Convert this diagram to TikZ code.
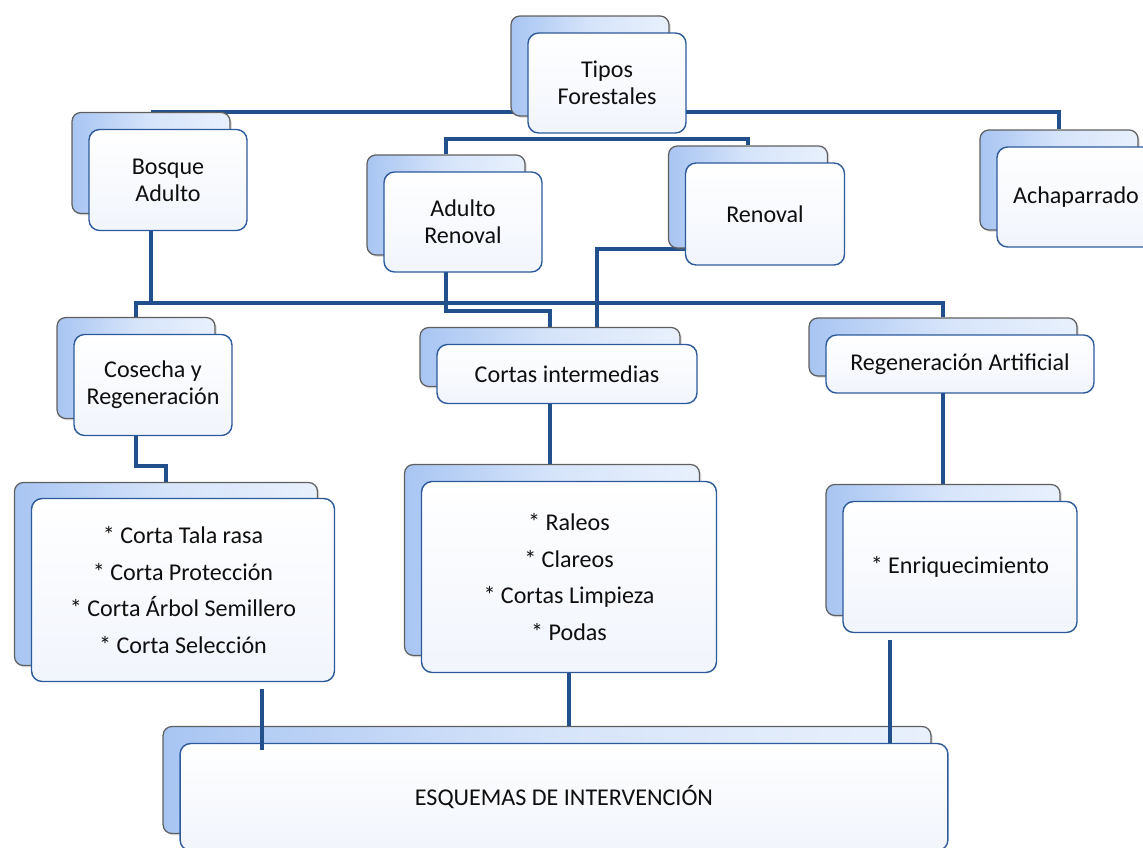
\documentclass[tikz,border=0pt]{standalone}
\usepackage{fontspec}
\setmainfont{Carlito}
\definecolor{linkBlue}{RGB}{33, 80, 140}
\definecolor{boxBlue}{RGB}{45, 90, 155}
\definecolor{backLeft}{RGB}{168, 197, 242}
\definecolor{backMid}{RGB}{214, 228, 250}
\definecolor{backRight}{RGB}{232, 240, 252}
\definecolor{frontBot}{RGB}{241, 245, 252}
\definecolor{backEdge}{RGB}{95, 95, 95}
\definecolor{darkText}{RGB}{15, 15, 15}
\usepackage{tikz}
\usetikzlibrary{positioning, calc, backgrounds, shadows}

\begin{document}
\begin{tikzpicture}[
    x=0.02cm, y=-0.02cm,
    backbox/.style={rectangle, draw=backEdge, line width=0.7pt, rounded corners=5pt,
                    left color=backLeft, right color=backRight, middle color=backMid,
                    drop shadow={opacity=0.25, shadow xshift=0.04cm, shadow yshift=-0.04cm}},
    frontbox/.style={rectangle, draw=boxBlue, line width=0.8pt, rounded corners=6pt,
                     top color=white, bottom color=frontBot, align=center, text=darkText,
                     font=\fontsize{13.7}{15.5}\selectfont},
    listbox/.style={frontbox, font=\fontsize{13.7}{21}\selectfont},
    link/.style={linkBlue, line width=2.3pt},
  ]
    \useasboundingbox (0,0) rectangle (1143,848);

    % Top level
    \node[backbox, minimum width=3.16cm, minimum height=2cm] (TFb) at (590,66) {};
    \node[frontbox, minimum width=3.16cm, minimum height=2cm] (TF) at (607,83) {Tipos\\Forestales};

    % Forest types
    \node[backbox, minimum width=3.16cm, minimum height=2.02cm] (BAb) at (151,163) {};
    \node[frontbox, minimum width=3.16cm, minimum height=2.02cm] (BA) at (168,180) {Bosque\\Adulto};
    \node[backbox, minimum width=3.16cm, minimum height=2cm] (ARb) at (446,205) {};
    \node[frontbox, minimum width=3.16cm, minimum height=2cm] (AR) at (463,222) {Adulto\\Renoval};
    \node[backbox, minimum width=3.18cm, minimum height=2.04cm] (REb) at (748,197) {};
    \node[frontbox, minimum width=3.18cm, minimum height=2.04cm] (RE) at (765,214) {Renoval};
    \node[backbox, minimum width=3.16cm, minimum height=2cm] (ACb) at (1059,180) {};
    \node[frontbox, minimum width=3.16cm, minimum height=2cm] (AC) at (1076,197) {Achaparrado};

    % Treatments
    \node[backbox, minimum width=3.16cm, minimum height=2.02cm] (CRb) at (136,368) {};
    \node[frontbox, minimum width=3.16cm, minimum height=2.02cm] (CR) at (153,385) {Cosecha y\\Regeneración};
    \node[backbox, minimum width=5.2cm, minimum height=1.18cm] (CIb) at (550,357) {};
    \node[frontbox, minimum width=5.2cm, minimum height=1.18cm] (CI) at (567,374) {Cortas intermedias};
    \node[backbox, minimum width=5.36cm, minimum height=1.16cm] (RAb) at (943,347) {};
    \node[frontbox, minimum width=5.36cm, minimum height=1.16cm] (RA) at (960,364) {Regeneración Artificial};

    % Lists
    \node[backbox, minimum width=6.06cm, minimum height=3.66cm] (LLb) at (166,574) {};
    \node[listbox, minimum width=6.06cm, minimum height=3.66cm] (LL) at (183,590)
         {* Corta Tala rasa\\* Corta Protección\\* Corta Árbol Semillero\\* Corta Selección};
    \node[backbox, minimum width=5.9cm, minimum height=3.82cm] (MLb) at (552,560) {};
    \node[listbox, minimum width=5.9cm, minimum height=3.82cm] (ML) at (569,577)
         {* Raleos\\* Clareos\\* Cortas Limpieza\\* Podas};
    \node[backbox, minimum width=4.68cm, minimum height=2.62cm] (ENb) at (943,550) {};
    \node[frontbox, minimum width=4.68cm, minimum height=2.62cm] (EN) at (960,567) {* Enriquecimiento};

    % Bottom
    \node[backbox, minimum width=15.36cm, minimum height=2.14cm] (ESb) at (547,780) {};
    \node[frontbox, minimum width=15.36cm, minimum height=2.14cm] (ES) at (564,797) {ESQUEMAS DE INTERVENCIÓN};

    % Connectors behind the boxes
    \begin{scope}[on background layer]
      \draw[link] (BAb.north) -| (ACb.north);
      \draw[link] (ARb.north) |- ($(TF.south)+(0,5)$) -| (REb.north);
      \coordinate (BAj) at ($(BAb.south)+(0,89)$);
      \draw[link] (BAb.south) -- (BAj) -| (RAb.north);
      \draw[link] (CRb.north) |- (BAj);
      \draw[link] (ARb.south) |- ($(CIb.north)+(0,-16)$) -- (CIb.north);
      \draw[link] (REb.south -| RE.west) -| ($(CIb.north)+(47,0)$);
      \draw[link] (CRb.south) |- ($(LLb.north)+(0,-16)$) -- (LLb.north);
      \draw[link] (CIb.south) -- (CIb.south |- MLb.north);
      \draw[link] (RAb.south) -- (RAb.south |- ENb.north);
    \end{scope}

    % Connectors into the bottom box
    \coordinate (LLe) at ($(LL.south)+(79,7)$);
    \coordinate (ENe) at ($(EN.south)+(-70,7)$);
    \draw[link] (LLe) -- ($(LLe |- ES.north)+(0,7)$);
    \draw[link] (ML.south) -- (ML.south |- ESb.north);
    \draw[link] (ENe) -- (ENe |- ES.north);
  \end{tikzpicture}
\end{document}
